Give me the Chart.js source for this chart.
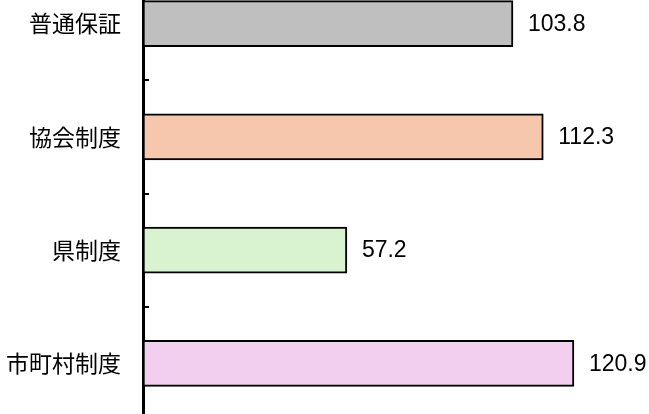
<!DOCTYPE html>
<html>
<head>
<meta charset="utf-8">
<script src="https://cdn.jsdelivr.net/npm/chart.js@4/dist/chart.umd.min.js"></script>
<style>
  html, body { margin: 0; padding: 0; background: #fff; overflow: hidden; }
  #wrap { position: relative; width: 649px; height: 414px; overflow: hidden; }
  #box { position: absolute; left: 0; top: -33px; width: 649px; height: 453px; }
</style>
</head>
<body>
<div id="wrap"><div id="box"><canvas id="c" width="649" height="453"></canvas></div></div>
<script>
const categories = ["普通保証", "協会制度", "県制度", "市町村制度"];
const values = [103.8, 112.3, 57.2, 120.9];
const barColors = ["#BFBFBF", "#F6C6AD", "#D9F2D0", "#F2CEEF"];

const valueLabels = {
  id: 'valueLabels',
  afterDatasetsDraw(chart) {
    const ctx = chart.ctx;
    const meta = chart.getDatasetMeta(0);
    ctx.save();
    ctx.fillStyle = '#000';
    ctx.font = '23px "Liberation Sans", Arial, sans-serif';
    ctx.textAlign = 'left';
    ctx.textBaseline = 'middle';
    meta.data.forEach((bar, i) => {
      ctx.fillText(values[i].toFixed(1), bar.x + 15, bar.y + 1);
    });
    ctx.restore();
  }
};

const innerTicks = {
  id: 'innerTicks',
  afterDraw(chart) {
    const s = chart.scales.y;
    const ctx = chart.ctx;
    ctx.save();
    ctx.strokeStyle = '#000';
    ctx.lineWidth = 2;
    for (let i = 0; i < categories.length - 1; i++) {
      const y = Math.round((s.getPixelForTick(i) + s.getPixelForTick(i + 1)) / 2);
      ctx.beginPath();
      ctx.moveTo(s.right, y);
      ctx.lineTo(s.right + 6, y);
      ctx.stroke();
    }
    ctx.restore();
  }
};

new Chart(document.getElementById('c'), {
  type: 'bar',
  data: {
    labels: categories,
    datasets: [{
      data: values,
      backgroundColor: barColors,
      borderColor: '#000',
      borderWidth: 2,
      borderSkipped: false,
      barThickness: 46
    }]
  },
  options: {
    indexAxis: 'y',
    responsive: false,
    animation: false,
    layout: { padding: { left: 0, right: 7, top: 0, bottom: 0 } },
    plugins: { legend: { display: false }, tooltip: { enabled: false } },
    scales: {
      x: {
        display: false,
        min: 0,
        max: 140
      },
      y: {
        afterFit(scale) {
          scale.width = 143;
          scale.paddingTop = 0;
          scale.paddingBottom = 0;
        },
        grid: { display: true, drawOnChartArea: false, drawTicks: false, tickLength: 0 },
        border: { display: true, color: '#000', width: 3 },
        ticks: {
          color: '#000',
          padding: 22,
          font: { family: '"Noto Sans CJK JP", sans-serif', size: 23 }
        }
      }
    }
  },
  plugins: [valueLabels, innerTicks]
});
</script>
</body>
</html>
